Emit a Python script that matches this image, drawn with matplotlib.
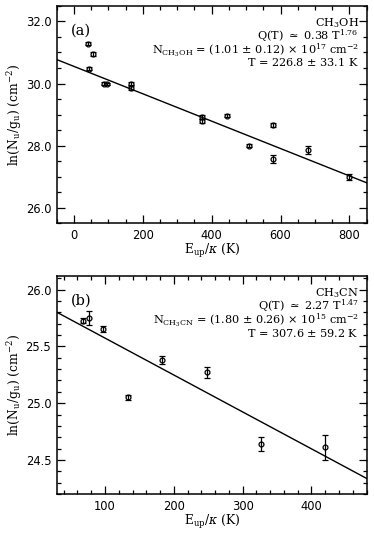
import numpy as np
import matplotlib
matplotlib.use('Agg')
import matplotlib.pyplot as plt
from matplotlib.ticker import MultipleLocator, FormatStrFormatter

### Data
# (a) CH3OH
e_ch3oh = [40, 56, 44, 87, 96, 165, 165, 372, 372, 445, 507, 577, 577, 680, 798]
ln_ch3oh = [31.28, 30.95, 30.47, 30.00, 29.98, 30.00, 29.85, 28.91, 28.80, 28.96,
            27.99, 28.67, 27.56, 27.86, 26.98]
err_ch3oh = [0.05, 0.05, 0.05, 0.04, 0.04, 0.06, 0.06, 0.06, 0.06, 0.05,
             0.05, 0.07, 0.13, 0.12, 0.09]
fit_ch3oh = (30.55, 226.8)   # intercept, temperature

# (b) CH3CN
e_ch3cn = [68, 76, 97.5, 133, 183, 248, 326.5, 419]
ln_ch3cn = [25.726, 25.75, 25.65, 25.05, 25.38, 25.27, 24.64, 24.61]
err_ch3cn = [0.02, 0.06, 0.025, 0.025, 0.035, 0.045, 0.065, 0.11]
fit_ch3cn = (25.898, 307.6)

text_a = ['CH$_3$OH',
          r'Q(T) $\simeq$ 0.38 T$^{1.76}$',
          r'N$_{\rm CH_3OH}$ = (1.01 $\pm$ 0.12) $\times$ 10$^{17}$ cm$^{-2}$',
          r'T = 226.8 $\pm$ 33.1 K']
text_b = ['CH$_3$CN',
          r'Q(T) $\simeq$ 2.27 T$^{1.47}$',
          r'N$_{\rm CH_3CN}$ = (1.80 $\pm$ 0.26) $\times$ 10$^{15}$ cm$^{-2}$',
          r'T = 307.6 $\pm$ 59.2 K']

plt.rcParams['font.family'] = 'DejaVu Serif'
plt.rcParams['mathtext.fontset'] = 'dejavuserif'

fig = plt.figure(figsize=(3.74, 5.39), dpi=100)
ax1 = fig.add_axes([0.152, 0.586, 0.828, 0.403])
ax2 = fig.add_axes([0.152, 0.0835, 0.828, 0.4045])


def panel(ax, x, y, err, fit, xlim, ylim, xmaj, xmin, ymaj, ymin, label, lines):
    ax.errorbar(x, y, yerr=err, fmt='o', ms=3.5, mfc='none', mec='black', mew=0.9,
                ecolor='black', elinewidth=0.9, capsize=2.0, capthick=0.9)
    xs = np.array(xlim)
    ax.plot(xs, fit[0] - xs / fit[1], color='black', lw=1.0)
    ax.set_xlim(xlim)
    ax.set_ylim(ylim)
    ax.xaxis.set_major_locator(MultipleLocator(xmaj))
    ax.xaxis.set_minor_locator(MultipleLocator(xmin))
    ax.yaxis.set_major_locator(MultipleLocator(ymaj))
    ax.yaxis.set_minor_locator(MultipleLocator(ymin))
    ax.yaxis.set_major_formatter(FormatStrFormatter('%.1f'))
    ax.tick_params(which='both', direction='in', top=True, right=True, width=0.9)
    ax.tick_params(which='major', length=5.5, labelsize=8.3, pad=4)
    ax.tick_params(which='minor', length=2.6)
    for t in ax.get_xticklabels() + ax.get_yticklabels():
        t.set_fontfamily('DejaVu Sans')
    for s in ax.spines.values():
        s.set_linewidth(1.1)
    ax.set_xlabel(r'E$_{\rm up}/\kappa$ (K)', fontsize=8.8)
    ax.set_ylabel(r'ln(N$_{\rm u}$/g$_{\rm u}$) (cm$^{-2}$)', fontsize=8.8)
    ax.xaxis.set_label_coords(0.5, -0.13)
    ax.yaxis.set_label_coords(-0.136, 0.5)
    ax.xaxis.label.set_va('center')
    ax.yaxis.label.set_va('center')
    ax.text(0.045, 0.885, label, transform=ax.transAxes, fontsize=10.5, va='center')
    for i, s in enumerate(lines):
        ax.text(0.975, 0.905 - i * 0.061, s, transform=ax.transAxes, fontsize=8.1,
                ha='right', va='baseline')


panel(ax1, e_ch3oh, ln_ch3oh, err_ch3oh, fit_ch3oh, (-50, 850), (25.5, 32.5),
      200, 50, 2.0, 0.5, '(a)', text_a)
panel(ax2, e_ch3cn, ln_ch3cn, err_ch3cn, fit_ch3cn, (30, 480), (24.2, 26.12),
      100, 20, 0.5, 0.1, '(b)', text_b)

fig.savefig('out.png', dpi=100)
